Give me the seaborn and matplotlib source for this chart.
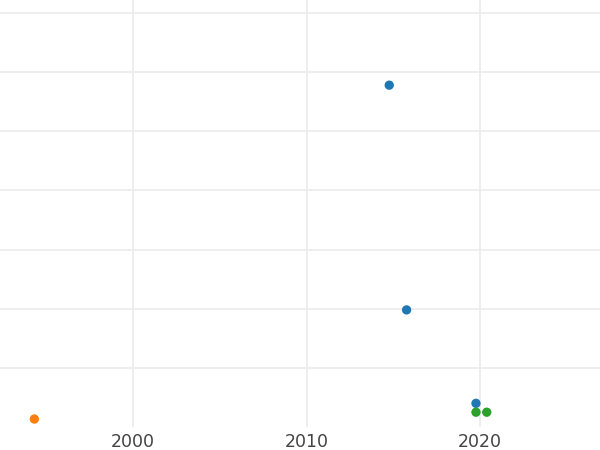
import matplotlib
matplotlib.use("Agg")
import matplotlib.pyplot as plt
import seaborn as sns
import pandas as pd

years = [2014.77, 2015.77, 2019.77, 2019.77, 2020.39, 1994.31]
values = [57.8, 19.8, 4.0, 2.5, 2.5, 1.35]
groups = ["A", "A", "A", "C", "C", "B"]
palette = {"A": "#1f77b4", "B": "#ff7f0e", "C": "#2ca02c"}
xticks = [2000, 2010, 2020]
yticks = [10, 20, 30, 40, 50, 60, 70]

df = pd.DataFrame({"year": years, "value": values, "group": groups})

sns.set_style("white")
fig = plt.figure(figsize=(6, 4.5), dpi=100)
ax = fig.add_axes([0, 1 - 427 / 450, 1, 427 / 450])
sns.scatterplot(data=df, x="year", y="value", hue="group", palette=palette,
                s=45, edgecolor="none", legend=False, ax=ax, zorder=3)
ax.set_xlim(1992.33, 2026.92)
ax.set_ylim(0, 72.2)
ax.set_xticks(xticks)
ax.set_xticklabels([str(t) for t in xticks])
ax.set_yticks(yticks)
ax.set_yticklabels([])
ax.grid(True, color="#ebebeb", linewidth=1.2)
ax.set_axisbelow(True)
ax.tick_params(length=0, labelsize=12.5, labelcolor="#444444", pad=4)
for s in ax.spines.values():
    s.set_visible(False)
ax.set_xlabel("")
ax.set_ylabel("")
fig.savefig("out.png", dpi=100)
